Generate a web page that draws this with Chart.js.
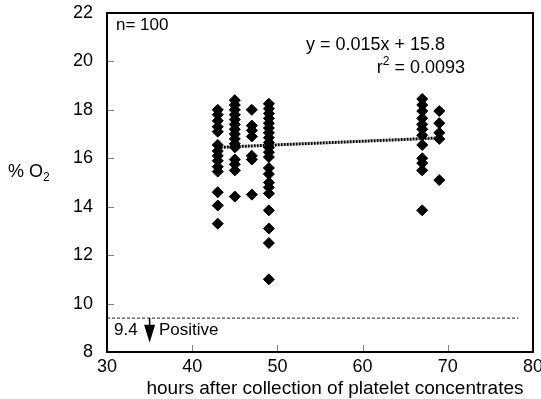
<!DOCTYPE html>
<html>
<head>
<meta charset="utf-8">
<script src="https://cdn.jsdelivr.net/npm/chart.js@4.4.0/dist/chart.umd.min.js"></script>
<style>
  html, body { margin: 0; padding: 0; background: #fff; }
  #wrap { width: 541px; height: 399px; }
</style>
</head>
<body>
<div id="wrap"><canvas id="chart" width="541" height="399"></canvas></div>
<script>
const hours = [43, 45, 47, 49, 67, 69];
const o2At43 = [18.0, 17.8, 17.55, 17.3, 17.1, 16.55, 16.3, 16.1, 15.9, 15.65, 15.45, 14.6, 14.05, 13.3];
const o2At45 = [18.4, 18.2, 18.0, 17.8, 17.6, 17.4, 17.2, 17.0, 16.8, 16.6, 16.45, 15.95, 15.75, 15.5, 14.42];
const o2At47 = [18.0, 17.35, 17.15, 16.9, 16.1, 15.95, 14.5];
const o2At49 = [18.25, 18.05, 17.85, 17.65, 17.45, 17.25, 17.05, 16.85, 16.65, 16.45, 16.25, 16.05,
                15.6, 15.35, 15.0, 14.8, 14.55, 13.85, 13.1, 12.5, 11.0];
const o2At67 = [18.45, 18.2, 17.95, 17.65, 17.4, 17.2, 16.95, 16.55, 16.0, 15.8, 15.5, 13.85];
const o2At69 = [17.95, 17.45, 17.05, 16.8, 15.1];
const o2Columns = [o2At43, o2At45, o2At47, o2At49, o2At67, o2At69];

// fitted line y = 0.015x + 15.8, ends
const fitX = [43, 69];
const fitY = [16.45, 16.84];
// 9.4 % cut-off for "Positive"
const cutoffX = [30, 78.3];
const cutoffY = 9.4;
const arrowX = 35;
const arrowTip = 8.38;

const xTicks = [30, 40, 50, 60, 70, 80];
const yTicks = [8, 10, 12, 14, 16, 18, 20, 22];

const FONT = '"Liberation Sans", Arial, Helvetica, sans-serif';

function buildPoints() {
  const pts = [];
  hours.forEach((h, i) => {
    o2Columns[i].forEach((v) => pts.push({ x: h, y: v }));
  });
  return pts;
}

const decorations = {
  id: 'decorations',
  afterDraw(chart) {
    const { ctx, chartArea: a, scales: { x, y } } = chart;
    ctx.save();

    // inward tick marks
    ctx.strokeStyle = '#808080';
    ctx.lineWidth = 1;
    ctx.beginPath();
    yTicks.slice(1, -1).forEach((v) => {
      const py = Math.round(y.getPixelForValue(v)) + 0.5;
      ctx.moveTo(a.left, py);
      ctx.lineTo(a.left + 7, py);
    });
    xTicks.slice(1, -1).forEach((v) => {
      const px = Math.round(x.getPixelForValue(v)) + 0.5;
      ctx.moveTo(px, a.bottom);
      ctx.lineTo(px, a.bottom - 7);
    });
    ctx.stroke();

    // plot frame
    ctx.strokeStyle = '#000';
    ctx.lineWidth = 2;
    ctx.strokeRect(a.left, a.top, a.right - a.left, a.bottom - a.top);

    // arrow below the cut-off line
    const ax = x.getPixelForValue(arrowX);
    const y0 = y.getPixelForValue(cutoffY);
    const yTip = y.getPixelForValue(arrowTip);
    ctx.fillStyle = '#000';
    ctx.lineWidth = 1.5;
    ctx.beginPath();
    ctx.moveTo(ax, y0);
    ctx.lineTo(ax, yTip - 17);
    ctx.stroke();
    ctx.beginPath();
    ctx.moveTo(ax - 5.5, yTip - 18);
    ctx.lineTo(ax + 5.5, yTip - 18);
    ctx.lineTo(ax, yTip);
    ctx.closePath();
    ctx.fill();

    // texts
    ctx.fillStyle = '#000';
    ctx.textBaseline = 'middle';
    ctx.textAlign = 'left';
    ctx.font = `17px ${FONT}`;
    ctx.fillText('n= 100', 116, 25);
    ctx.fillText('9.4', 114, 330);
    ctx.fillText('Positive', 159, 330);

    ctx.font = `18px ${FONT}`;
    ctx.textAlign = 'right';
    ctx.fillText('y = 0.015x + 15.8', 445, 45);
    const tail = ' = 0.0093';
    ctx.fillText(tail, 465, 68);
    let rx = 465 - ctx.measureText(tail).width;
    ctx.font = `12px ${FONT}`;
    ctx.fillText('2', rx, 62);
    rx -= ctx.measureText('2').width;
    ctx.font = `18px ${FONT}`;
    ctx.fillText('r', rx, 68);

    ctx.textAlign = 'left';
    ctx.fillText('% O', 8, 172);
    const ow = ctx.measureText('% O').width;
    ctx.font = `12px ${FONT}`;
    ctx.fillText('2', 8 + ow, 178);

    ctx.font = `19px ${FONT}`;
    ctx.textAlign = 'center';
    ctx.fillText('hours after collection of platelet concentrates', 335, 389);

    ctx.restore();
  },
};

function init() {
  const ctx = document.getElementById('chart');
  new Chart(ctx, {
    type: 'scatter',
    data: {
      datasets: [
        {
          label: '% O2',
          data: buildPoints(),
          pointStyle: 'rectRot',
          pointRadius: 5.5,
          backgroundColor: '#000',
          borderColor: '#000',
          borderWidth: 1,
        },
        {
          type: 'line',
          label: 'fit',
          data: fitX.map((v, i) => ({ x: v, y: fitY[i] })),
          borderColor: '#000',
          borderWidth: 3,
          borderDash: [2, 1],
          pointRadius: 0,
          fill: false,
        },
        {
          type: 'line',
          label: 'cut-off',
          data: cutoffX.map((v) => ({ x: v, y: cutoffY })),
          borderColor: '#222',
          borderWidth: 1,
          borderDash: [3, 2],
          pointRadius: 0,
          fill: false,
        },
      ],
    },
    options: {
      responsive: false,
      animation: false,
      devicePixelRatio: 1,
      layout: { padding: { top: 13, right: 8, left: 0, bottom: 0 } },
      plugins: { legend: { display: false }, tooltip: { enabled: false } },
      scales: {
        x: {
          type: 'linear',
          min: 30,
          max: 80,
          afterFit: (s) => {
            s.height = 47;
            s.paddingLeft = 0;
            s.paddingRight = 0;
          },
          afterBuildTicks: (s) => { s.ticks = xTicks.map((v) => ({ value: v })); },
          grid: { display: false, drawTicks: false },
          border: { display: false },
          ticks: { color: '#000', padding: 4, font: { family: FONT, size: 18 } },
        },
        y: {
          min: 8,
          max: 22,
          afterFit: (s) => {
            s.width = 107;
            s.paddingTop = 0;
            s.paddingBottom = 0;
          },
          afterBuildTicks: (s) => { s.ticks = yTicks.map((v) => ({ value: v })); },
          grid: { display: false, drawTicks: false },
          border: { display: false },
          ticks: { color: '#000', padding: 14, font: { family: FONT, size: 18 } },
        },
      },
    },
    plugins: [decorations],
  });
}

document.addEventListener('DOMContentLoaded', init);
</script>
</body>
</html>
